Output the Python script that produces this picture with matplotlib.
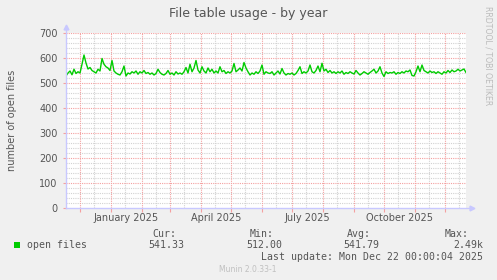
import matplotlib
matplotlib.use("Agg")
import matplotlib.pyplot as plt
import numpy as np

# ---- data (one sample every 2 days) ----
start = np.datetime64("2024-11-17")
end = np.datetime64("2025-12-22")
open_files = [
    528, 540, 548, 533, 555, 538, 545, 540, 575, 612, 580, 556, 562, 550, 545, 540,
    555, 548, 598, 575, 565, 560, 550, 590, 548, 540, 535, 532, 545, 568, 528, 540,
    536, 545, 540, 548, 535, 545, 540, 550, 538, 542, 535, 540, 532, 538, 555, 542,
    535, 532, 538, 550, 535, 540, 532, 545, 536, 540, 535, 545, 562, 540, 575, 545,
    560, 590, 552, 540, 565, 548, 540, 560, 545, 555, 540, 548, 540, 565, 545, 550,
    538, 545, 540, 548, 578, 545, 552, 560, 548, 582, 560, 545, 532, 540, 535, 545,
    538, 548, 572, 535, 545, 540, 538, 545, 532, 540, 548, 536, 558, 540, 532, 538,
    535, 540, 532, 538, 550, 565, 538, 545, 540, 548, 572, 545, 540, 550, 568, 545,
    579, 548, 555, 542, 550, 540, 545, 538, 545, 540, 548, 535, 542, 538, 545, 540,
    536, 550, 540, 532, 538, 545, 540, 535, 542, 548, 555, 540, 548, 565, 540, 526,
    545, 538, 542, 540, 545, 535, 542, 538, 545, 540, 548, 545, 552, 530, 528, 545,
    568, 545, 572, 550, 545, 540, 548, 542, 545, 538, 545, 540, 535, 545, 540, 550,
    542, 552, 545, 548, 555, 548, 552, 556, 542,
]
dates = start + np.arange(len(open_files)) * np.timedelta64(2, "D")

title = "File table usage - by year"
ylabel = "number of open files"
quarter_labels = ["January 2025", "April 2025", "July 2025", "October 2025"]
quarter_pos = ["2025-01-16", "2025-04-16", "2025-07-16", "2025-10-16"]
stats_head = ["Cur:", "Min:", "Avg:", "Max:"]
stats_vals = ["541.33", "512.00", "541.79", "2.49k"]
last_update = "Last update: Mon Dec 22 00:00:04 2025"

W, H = 497, 280
BG = "#f0f0f0"
TXT = "#555555"
GREEN = "#00cc00"
AXC = "#c8c8ff"

fig = plt.figure(figsize=(W / 100, H / 100), dpi=100, facecolor=BG)


def px(x, y):
    return x / W, 1 - y / H


ax = fig.add_axes([66 / W, 72 / H, 400 / W, 175 / H])
ax.set_facecolor("white")

# grid: gray minor, red major
months = np.arange(np.datetime64("2024-12"), np.datetime64("2026-01"), np.timedelta64(1, "M"))
mids = months.astype("datetime64[D]") + np.timedelta64(14, "D")
for m in mids:
    ax.axvline(m, color="#d2d2d2", lw=0.8, ls=(0, (1, 1)), zorder=1)
for v in range(20, 701, 20):
    if v % 100:
        ax.axhline(v, color="#d2d2d2", lw=0.8, ls=(0, (1, 1)), zorder=1)
for m in months:
    ax.axvline(m.astype("datetime64[D]"), color="#f4a0a0", lw=0.8, ls=(0, (1, 1)), zorder=2)
for v in range(100, 701, 100):
    ax.axhline(v, color="#f4a0a0", lw=0.8, ls=(0, (1, 1)), zorder=2)

ax.plot(dates, open_files, color=GREEN, lw=1.0, zorder=3)

ax.set_xlim(start, end)
ax.set_ylim(0, 700)
for s in ax.spines.values():
    s.set_visible(False)

ax.set_yticks(range(0, 701, 100))
ax.set_xticks(months.astype("datetime64[D]"))
ax.set_xticklabels([])
ax.tick_params(axis="y", labelsize=7, colors="#f4a0a0", labelcolor=TXT, length=2, width=0.8, pad=4)
ax.tick_params(axis="x", colors="#f4a0a0", length=3, width=0.8)

# axis lines with arrow heads
ax.plot([0, 1.01], [0, 0], transform=ax.transAxes, color=AXC, lw=1, clip_on=False, zorder=4)
ax.plot([0, 0], [0, 1.03], transform=ax.transAxes, color=AXC, lw=1, clip_on=False, zorder=4)
ax.plot([1.015], [0], transform=ax.transAxes, marker=">", ms=3.5, color=AXC, clip_on=False, zorder=4)
ax.plot([0], [1.035], transform=ax.transAxes, marker="^", ms=3.5, color=AXC, clip_on=False, zorder=4)

for lab, pos in zip(quarter_labels, quarter_pos):
    ax.text(np.datetime64(pos), -0.03, lab, transform=ax.get_xaxis_transform(),
            ha="center", va="top", fontsize=7, color=TXT)

fig.text(*px(248, 13), title, ha="center", va="center", fontsize=9, color=TXT)
fig.text(*px(12, 120), ylabel, ha="center", va="center", rotation=90, fontsize=7, color=TXT)
fig.text(*px(488, 56), "RRDTOOL / TOBI OETIKER", ha="center", va="center",
         rotation=270, fontsize=5.6, color="#bbbbbb")

# legend
mono = "DejaVu Sans Mono"
fig.patches.append(plt.Rectangle(px(14, 248), 6 / W, 6 / H, transform=fig.transFigure,
                                 facecolor=GREEN, edgecolor="none"))
fig.text(*px(27, 245), "open files", ha="left", va="center", fontsize=7.1,
         family=mono, color=TXT)
head_x = [176, 274, 371, 469]
val_x = [184, 282, 379, 483]
for h, hx in zip(stats_head, head_x):
    fig.text(*px(hx, 234), h, ha="right", va="center", fontsize=7.1, family=mono, color=TXT)
for v, vx in zip(stats_vals, val_x):
    fig.text(*px(vx, 245), v, ha="right", va="center", fontsize=7.1, family=mono, color=TXT)
fig.text(*px(483, 257), last_update, ha="right", va="center", fontsize=7.1,
         family=mono, color=TXT)
fig.text(*px(248, 269), "Munin 2.0.33-1", ha="center", va="center", fontsize=5.5,
         color="#c0c0c0")

fig.savefig("out.png", dpi=100, facecolor=BG)
